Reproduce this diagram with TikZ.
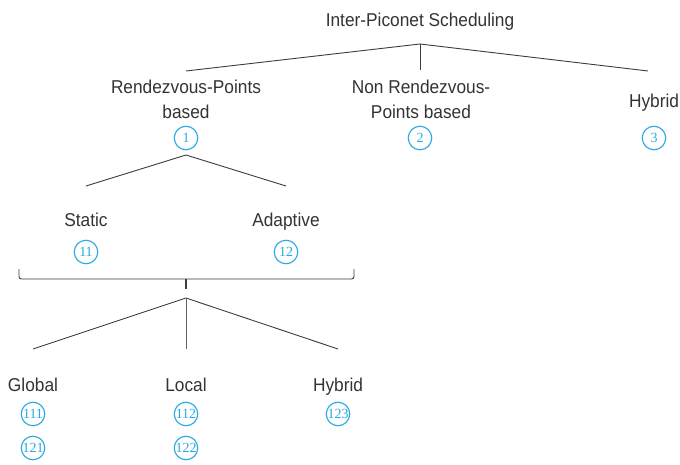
\documentclass[tikz,border=0pt]{standalone}
\usepackage{fontspec}
\setmainfont[FakeStretch=0.93]{Liberation Sans}
\newfontfamily\numfont{Liberation Serif}
\definecolor{txt}{HTML}{333333}
\definecolor{ln}{HTML}{3C3C3C}
\definecolor{cyanc}{HTML}{29A9E1}
\begin{document}
\begin{tikzpicture}[x=1pt,y=-1pt,
  lab/.style={font=\fontsize{18.6}{25}\selectfont, text=txt, inner sep=0pt, align=center},
  num/.style={circle, draw=cyanc, line width=1.1pt, minimum size=23.5pt, inner sep=0pt, text=cyanc, font=\numfont\fontsize{14}{14}\selectfont},
  edge/.style={draw=ln, line width=0.9pt}]
\path[use as bounding box] (0,0) rectangle (680,465);
% labels
\node[lab, anchor=base] (title) at (420,27) {Inter-Piconet Scheduling};
\node[lab, anchor=base] (rp) at (186,119) {Rendezvous-Points\\based};
\node[lab, anchor=base] (nrp) at (421,119) {Non Rendezvous-\\Points based};
\node[lab, anchor=base] (hyb) at (654,108) {Hybrid};
\node[num] (n1) at (186,138) {1};
\node[num] (n2) at (420,138) {2};
\node[num] (n3) at (654,138) {3};
\node[lab, anchor=base] (static) at (86,226) {Static};
\node[lab, anchor=base] (adapt) at (286,226) {Adaptive};
\node[num] (n11) at (86,252) {11};
\node[num] (n12) at (286,252) {12};
\node[lab, anchor=base] (global) at (33,391) {Global};
\node[lab, anchor=base] (local) at (186,391) {Local};
\node[lab, anchor=base] (hyb2) at (338,391) {Hybrid};
\node[num] (n111) at (33,414) {111};
\node[num] (n121) at (33,448) {121};
\node[num] (n112) at (186,414) {112};
\node[num] (n122) at (186,448) {122};
\node[num] (n123) at (338,414) {123};
% top tree
\coordinate (t0) at (420,44);
\coordinate (t1) at (186,71);
\coordinate (t2) at (420,70);
\coordinate (t3) at (648,71);
\draw[edge] (t1) -- (t0) -- (t3);
\draw[edge] (t0) -- (t2);
% second level
\coordinate (a0) at (186,155);
\coordinate (a1) at (86,186);
\coordinate (a2) at (286,186);
\draw[edge] (a1) -- (a0) -- (a2);
% brace
\coordinate (bl) at (19,269);
\coordinate (bm) at (186,279);
\coordinate (br) at (354,269);
\coordinate (bt) at (186,289);
\draw[edge, rounded corners=2.5pt] (bl) -- (19,279) -- (bm) -- (354,279) -- (br);
\draw[draw=ln, line width=1.6pt] (bm) -- (bt);
% third level
\coordinate (c0) at (186,298);
\coordinate (c1) at (33,349);
\coordinate (c2) at (186,349);
\coordinate (c3) at (338,349);
\draw[edge] (c1) -- (c0) -- (c3);
\draw[edge, draw=ln!80] (c0) -- (c2);
\end{tikzpicture}
\end{document}
